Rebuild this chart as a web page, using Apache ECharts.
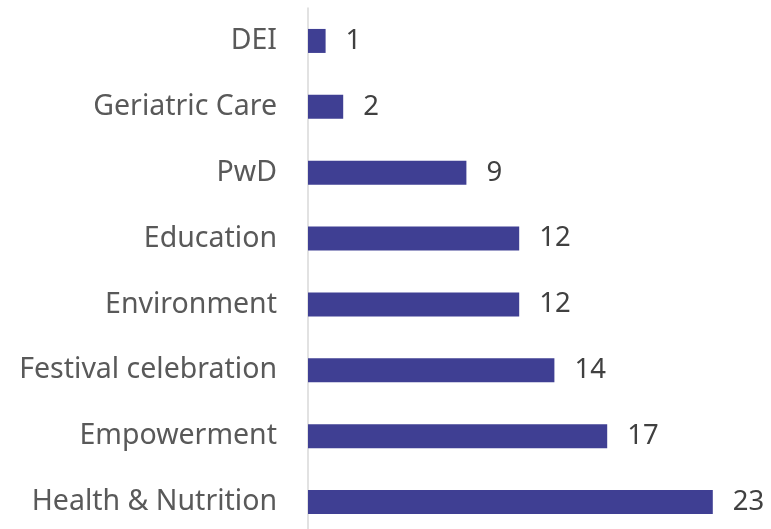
<!DOCTYPE html>
<html><head><meta charset="utf-8">
<script src="https://cdn.jsdelivr.net/npm/echarts@6/dist/echarts.min.js"></script>
<style>html,body{margin:0;padding:0;background:#fff;overflow:hidden}#c{width:771px;height:545px}</style>
</head><body><div id="c"></div>
<script>
const categories = ["Health & Nutrition","Empowerment","Festival celebration","Environment","Education","PwD","Geriatric Care","DEI"];
const values = [23,17,14,12,12,9,2,1];
const chart = echarts.init(document.getElementById('c'), null, {renderer:'canvas'});
chart.setOption({
  animation:false,
  grid:{left:308, top:8, width:440, height:527, containLabel:false},
  xAxis:{type:'value', min:0, max:25, show:false},
  yAxis:{type:'category', data:categories,
    axisLine:{show:true, lineStyle:{color:'#d9d9d9', width:1.5}},
    axisTick:{show:false},
    axisLabel:{color:'#595959', fontFamily:'Noto Sans', fontSize:28.5, margin:31}
  },
  series:[{type:'bar', data:values, barWidth:24,
    itemStyle:{color:'#3f3f93'},
    label:{show:true, position:'right', distance:20, color:'#404040', fontFamily:'Noto Sans', fontSize:27.5}
  }]
});
</script></body></html>
